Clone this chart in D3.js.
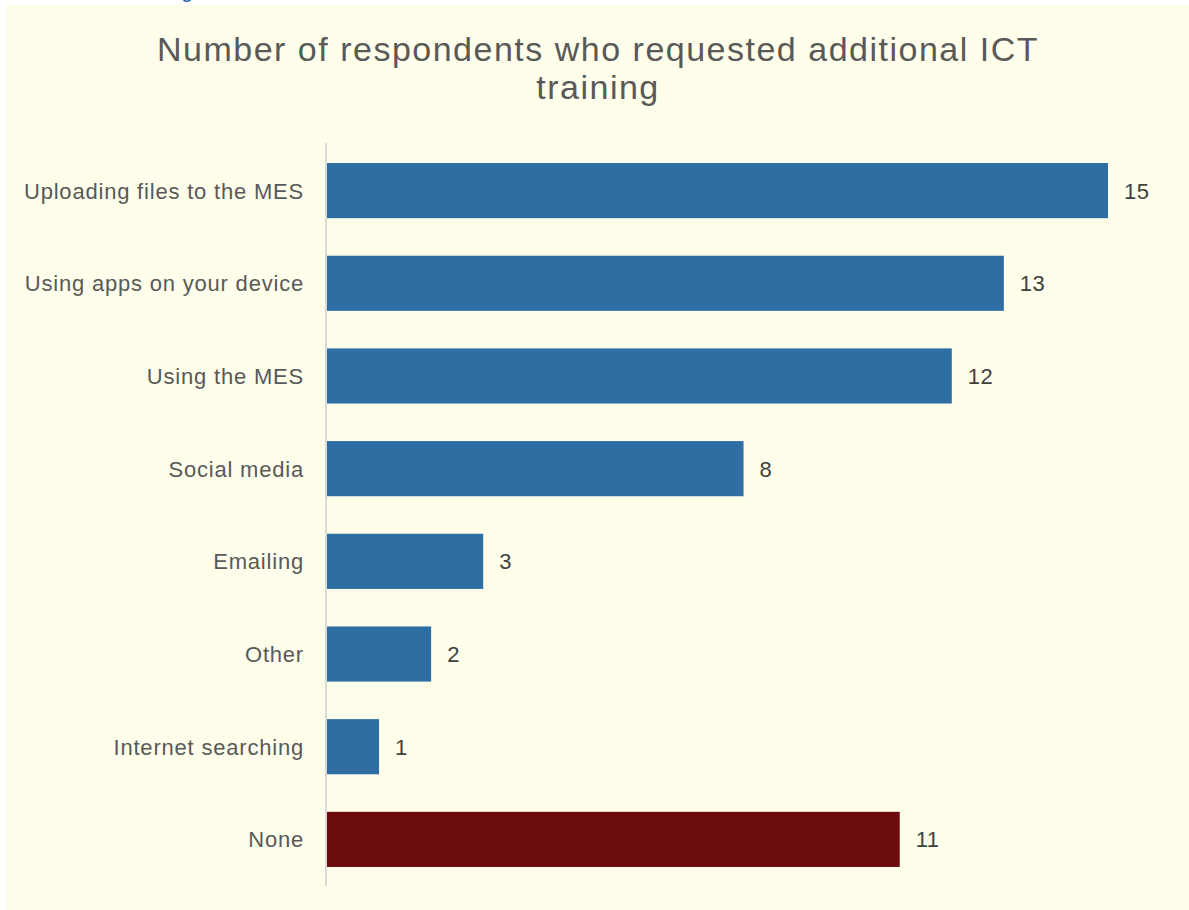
<!DOCTYPE html>
<html>
<head>
<meta charset="utf-8">
<script src="https://cdn.jsdelivr.net/npm/d3@7"></script>
<style>
  html, body { margin: 0; padding: 0; background: #ffffff; }
  svg { display: block; }
  text { font-family: "Liberation Sans", Arial, sans-serif; }
</style>
</head>
<body>
<svg id="chart" width="1189" height="910"></svg>
<script>
// Training topics and how many respondents asked for each
const categories = [
  "Uploading files to the MES",
  "Using apps on your device",
  "Using the MES",
  "Social media",
  "Emailing",
  "Other",
  "Internet searching",
  "None"
];
const counts = [15, 13, 12, 8, 3, 2, 1, 11];
const titleLines = ["Number of respondents who requested additional ICT", "training"];

const svg = d3.select("#chart");
const W = 1189, H = 910;

// Pale chart panel
svg.append("rect")
  .attr("x", 6).attr("y", 5)
  .attr("width", W - 6).attr("height", H - 5)
  .attr("fill", "#fefeeb");

// Trailing descender of the heading above the panel
svg.append("text")
  .attr("x", 181).attr("y", -3)
  .attr("font-size", 22)
  .attr("fill", "#2e6ca4")
  .text("g");

// Title
svg.append("g")
  .selectAll("text")
  .data(titleLines)
  .join("text")
  .attr("x", 598)
  .attr("y", (d, i) => 61 + i * 38)
  .attr("text-anchor", "middle")
  .attr("font-size", 34)
  .attr("fill", "#595959")
  .attr("letter-spacing", 1.5)
  .text(d => d);

const x0 = 327;
const x = d3.scaleLinear().domain([0, 15]).range([x0, 1108]);
const y = d3.scaleBand()
  .domain(categories)
  .range([144.5, 885.5])
  .paddingInner(0.405)
  .paddingOuter(0.2);

// Bars
svg.append("g")
  .selectAll("rect")
  .data(categories)
  .join("rect")
  .attr("x", x(0))
  .attr("y", d => y(d))
  .attr("width", (d, i) => x(counts[i]) - x(0))
  .attr("height", y.bandwidth())
  .attr("fill", d => d === "None" ? "#6d0c0e" : "#2e6ea3");

// Category axis
const axis = d3.axisLeft(y).tickSize(0).tickPadding(22);
const gAxis = svg.append("g")
  .attr("transform", `translate(${x0 - 1},0)`)
  .call(axis);
gAxis.select(".domain")
  .attr("stroke", "#d9d9d9")
  .attr("stroke-width", 2)
  .attr("d", "M0,143V886");
gAxis.selectAll("text")
  .attr("font-size", 22)
  .attr("letter-spacing", 0.8)
  .attr("fill", "#595959")
  .attr("font-family", "\"Liberation Sans\", Arial, sans-serif")
  .attr("dy", "0.36em");

// Value labels
svg.append("g")
  .selectAll("text")
  .data(categories)
  .join("text")
  .attr("x", (d, i) => x(counts[i]) + 16)
  .attr("y", d => y(d) + y.bandwidth() / 2)
  .attr("dy", "0.36em")
  .attr("font-size", 22)
  .attr("letter-spacing", 0.5)
  .attr("fill", "#404040")
  .text((d, i) => counts[i]);
</script>
</body>
</html>
